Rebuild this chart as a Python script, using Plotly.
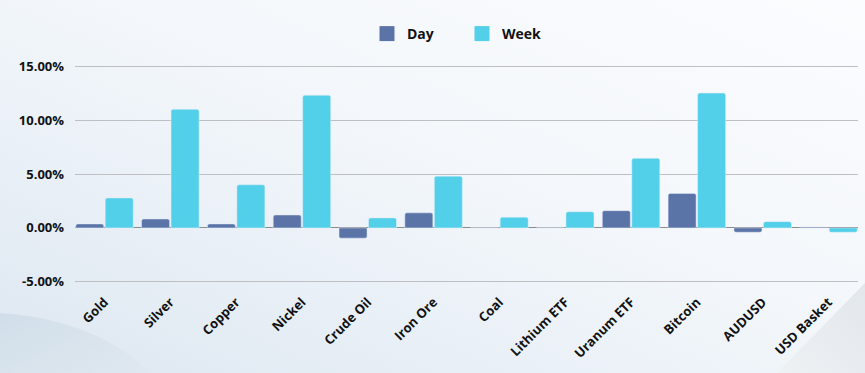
import plotly.graph_objects as go
import base64

categories = ["Gold", "Silver", "Copper", "Nickel", "Crude Oil", "Iron Ore", "Coal",
              "Lithium ETF", "Uranum ETF", "Bitcoin", "AUDUSD", "USD Basket"]
day = [0.37, 0.83, 0.37, 1.2, -0.95, 1.4, 0.0, 0.0, 1.6, 3.2, -0.4, 0.08]
week = [2.78, 11.0, 4.0, 12.3, 0.93, 4.8, 1.0, 1.5, 6.45, 12.5, 0.58, -0.4]
yticks = [-5, 0, 5, 10, 15]
yticklabels = ["-5.00%", "0.00%", "5.00%", "10.00%", "15.00%"]
day_color = "#5b74a8"
week_color = "#52cfe9"

svg = """<svg xmlns='http://www.w3.org/2000/svg' width='865' height='373'>
<defs><linearGradient id='g' x1='0' y1='1' x2='1' y2='0'>
<stop offset='0' stop-color='#dde7f1'/><stop offset='0.55' stop-color='#f3f7fb'/>
<stop offset='1' stop-color='#fbfcfe'/></linearGradient>
<linearGradient id='w' x1='0' y1='0' x2='1' y2='1'>
<stop offset='0' stop-color='#cddbe6'/><stop offset='1' stop-color='#dfe8f0'/></linearGradient>
<linearGradient id='r' x1='0' y1='1' x2='1' y2='0'>
<stop offset='0' stop-color='#eef1f4'/><stop offset='1' stop-color='#e2e7ec'/></linearGradient></defs>
<rect width='865' height='373' fill='url(#g)'/>
<path d='M0,313 C50,316 110,332 150,373 L0,373 Z' fill='url(#w)' opacity='0.8'/>
<path d='M777,373 L865,283 L865,373 Z' fill='url(#r)'/>
</svg>"""
src = "data:image/svg+xml;base64," + base64.b64encode(svg.encode()).decode()

font = "Open Sans, sans-serif"
L, R, T, B = 75, 7, 64, 89
PW, PH = 865 - L - R, 373 - T - B

fig = go.Figure()
fig.add_trace(go.Bar(x=categories, y=day, name="Day", marker_color=day_color, showlegend=False))
fig.add_trace(go.Bar(x=categories, y=week, name="Week", marker_color=week_color, showlegend=False))
fig.add_trace(go.Scatter(x=[None], y=[None], mode="markers", name="Day",
                         marker=dict(symbol="square", size=15, color=day_color)))
fig.add_trace(go.Scatter(x=[None], y=[None], mode="markers", name="Week",
                         marker=dict(symbol="square", size=15, color=week_color)))

fig.update_layout(
    width=865, height=373,
    margin=dict(l=L, r=R, t=T, b=B, autoexpand=False),
    paper_bgcolor="#f1f5f9", plot_bgcolor="rgba(0,0,0,0)",
    barmode="group", bargap=0.104, bargroupgap=0.05, barcornerradius=2,
    font=dict(family=font, size=12, color="#111111"),
    legend=dict(orientation="h", x=(367 - L) / PW, xanchor="left",
                y=1 - 34 / 373, yref="container", yanchor="middle",
                font=dict(family=font, size=14, color="#111111", weight="bold"),
                bgcolor="rgba(0,0,0,0)", traceorder="normal", entrywidth=50),
    xaxis=dict(tickangle=-45, tickfont=dict(family=font, size=13, weight="bold", color="#111"),
               showgrid=False, showline=False, ticks="", range=[-0.448, 11.448],
               ticklabelstandoff=7),
    yaxis=dict(range=[-5.2, 15.2], tickvals=yticks, ticktext=yticklabels,
               tickfont=dict(family=font, size=13, weight="bold", color="#111"),
               showgrid=True, gridcolor="#bdbfc2", gridwidth=1,
               zeroline=True, zerolinecolor="#8a8c8f", zerolinewidth=1, ticks="",
               ticklabelstandoff=10),
    images=[dict(source=src, xref="paper", yref="paper", x=-L / PW, y=1 + T / PH,
                 sizex=865 / PW, sizey=373 / PH, xanchor="left", yanchor="top",
                 sizing="stretch", layer="below")],
)
fig.write_html("out.html", config={"displayModeBar": False},
               post_script="document.body.style.margin='0';document.body.style.overflow='hidden';")
